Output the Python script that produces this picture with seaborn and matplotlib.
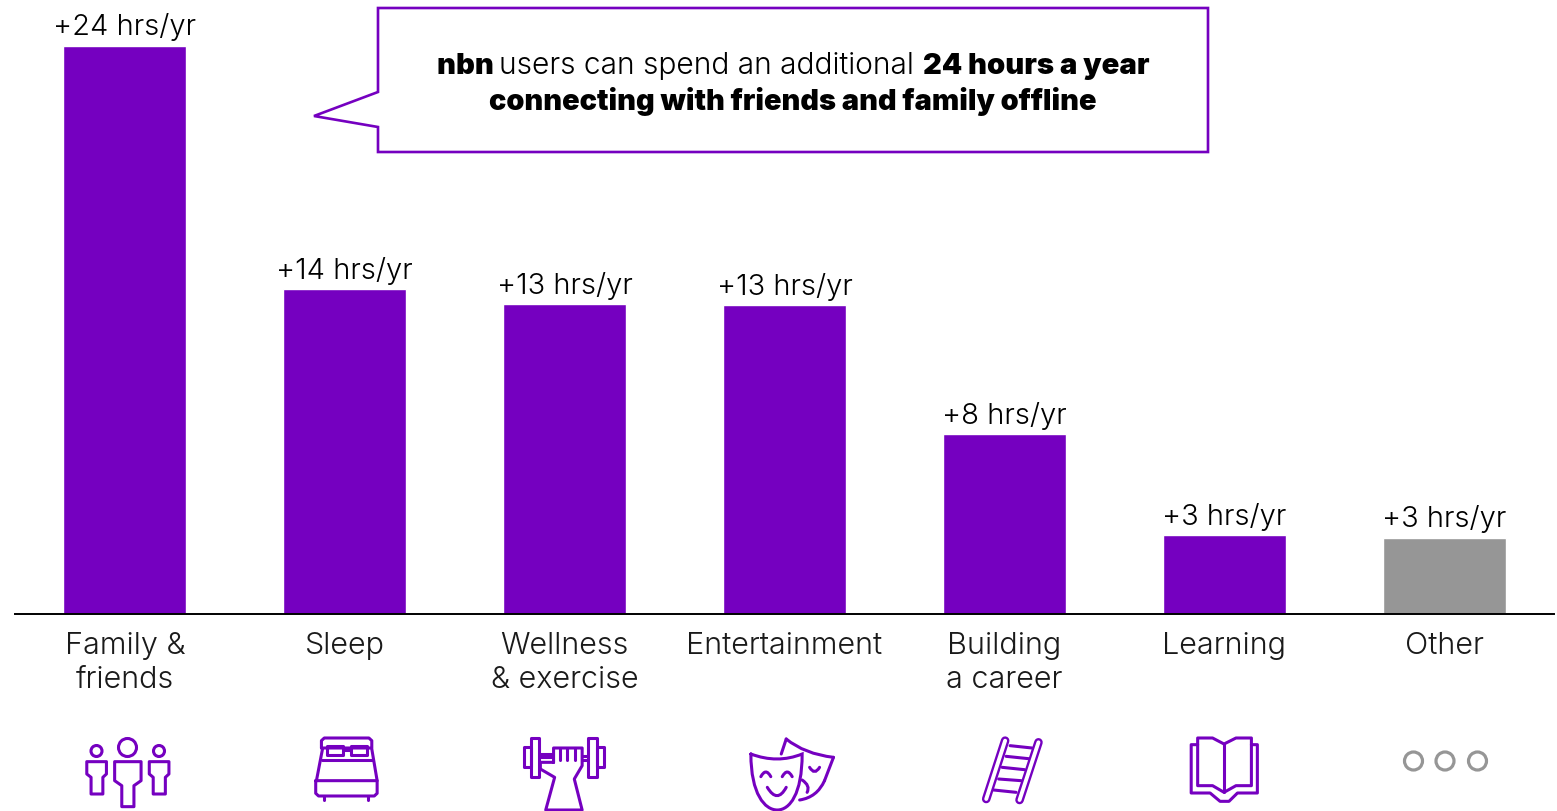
import matplotlib
matplotlib.use("Agg")
import matplotlib.pyplot as plt
import pandas as pd
import seaborn as sns
from matplotlib.patches import Circle, PathPatch, Polygon
from matplotlib.path import Path

# =========================
# Data
# =========================
categories = ["Family &\nfriends", "Sleep", "Wellness\n& exercise", "Entertainment",
              "Building\na career", "Learning", "Other"]
hours = [24, 13.7, 13.08, 13.03, 7.58, 3.3, 3.2]
value_labels = ["+24 hrs/yr", "+14 hrs/yr", "+13 hrs/yr", "+13 hrs/yr",
                "+8 hrs/yr", "+3 hrs/yr", "+3 hrs/yr"]
PURPLE = "#7500C0"
GREY = "#969696"
bar_colors = [PURPLE] * 6 + [GREY]

W, H = 1557, 812
FONT = "Inter"

sns.set_theme(style="white")
plt.rcParams["font.family"] = [FONT, "DejaVu Sans"]

# =========================
# Bars
# =========================
fig = plt.figure(figsize=(W / 100, H / 100), dpi=100)
ax = fig.add_axes([15 / W, 1 - 614.5 / H, 1539 / W, 614.5 / H])
df = pd.DataFrame({"category": categories, "hours": hours})
sns.barplot(data=df, x="category", y="hours", hue="category", palette=bar_colors,
            legend=False, width=0.56, saturation=1, ax=ax)
ax.set_xlim(-0.5, 6.5)
ax.set_ylim(0, 25.98)
ax.set_xlabel("")
ax.set_ylabel("")
ax.set_yticks([])
for side in ["top", "left", "right"]:
    ax.spines[side].set_visible(False)
ax.spines["bottom"].set_color("black")
ax.spines["bottom"].set_linewidth(1.4)
ax.tick_params(axis="x", length=0, pad=12.5)
for lab in ax.get_xticklabels():
    lab.set_fontsize(22)
    lab.set_fontweight(300)
    lab.set_color("#1a1a1a")
    lab.set_linespacing(1.27)
for cont, lab in zip(ax.containers, value_labels):
    ax.bar_label(cont, labels=[lab], padding=4, fontsize=21, fontweight=300, color="black")

# =========================
# Overlay in pixel coordinates (callout and icons)
# =========================
ov = fig.add_axes([0, 0, 1, 1], facecolor="none")
ov.set_xlim(0, W)
ov.set_ylim(H, 0)
ov.axis("off")

callout = [(378, 9), (1208, 9), (1208, 153), (378, 153), (378, 128), (314, 117), (378, 93)]
ov.add_patch(Polygon(callout, closed=True, fc="white", ec=PURPLE, lw=1.9))


def runs(y, parts):
    # centre a line made of normal and bold pieces on the callout
    r = fig.canvas.get_renderer()
    arts = [ov.text(0, y, t, fontsize=s, fontweight=w, color="black", va="center", ha="left")
            for t, w, s in parts]
    widths = [a.get_window_extent(r).width for a in arts]
    x = 793 - sum(widths) / 2
    for a, wd in zip(arts, widths):
        a.set_x(x)
        x += wd


runs(66, [("nbn ", 900, 21), ("users can spend an additional ", 300, 21.6), ("24 hours a year", 900, 21)])
runs(102, [("connecting with friends and family offline", 900, 20.8)])

LW = 2.2
kw = dict(color=PURPLE, lw=LW, solid_capstyle="round", solid_joinstyle="round")


def z1(pts):
    return [(60 + x / 2.8, 725 + y / 3) for x, y in pts]


def z2(pts):
    return [(730 + x / 2.01, 725 + y / 3) for x, y in pts]


def line(pts):
    ov.plot([p[0] for p in pts], [p[1] for p in pts], **kw)


def shape(pts):
    ov.add_patch(Polygon(pts, closed=True, fc="none", ec=PURPLE, lw=LW, joinstyle="round"))


def curve(pts, codes):
    ov.add_patch(PathPatch(Path(pts, codes), fc="none", ec=PURPLE, lw=LW, capstyle="round"))


M, L3, C3, C4 = Path.MOVETO, Path.LINETO, Path.CURVE3, Path.CURVE4

# family
for c, r in [((96.5, 752), 5.5), ((127.5, 748.5), 9), ((159, 752), 5.5)]:
    ov.add_patch(Circle(c, r, fc="none", ec=PURPLE, lw=LW))
shape(z1([(75, 113), (130, 113), (130, 150), (120, 160), (120, 210), (87, 210), (87, 160), (75, 150)]))
shape(z1([(153, 113), (227, 113), (227, 170), (207, 185), (207, 248), (173, 248), (173, 185), (153, 170)]))
shape(z1([(250, 113), (305, 113), (305, 150), (295, 160), (295, 210), (261, 210), (261, 160), (250, 150)]))

# bed
line(z1([(732, 72), (732, 50), (740, 42), (865, 42), (873, 50), (873, 72), (732, 72)]))
shape(z1([(748, 66), (793, 66), (793, 92), (748, 92)]))
shape(z1([(815, 66), (860, 66), (860, 92), (815, 92)]))
line(z1([(793, 78), (815, 78)]))
line(z1([(735, 75), (718, 170)]))
line(z1([(873, 75), (888, 170)]))
line(z1([(733, 108), (877, 108)]))
line(z1([(716, 170), (716, 208), (724, 216), (880, 216), (888, 208), (888, 170), (716, 170)]))
line(z1([(740, 218), (740, 228)]))
line(z1([(863, 218), (863, 228)]))

# dumbbell and fist
shape(z1([(1300, 70), (1320, 70), (1320, 130), (1300, 130)]))
shape(z1([(1320, 42), (1342, 42), (1342, 158), (1320, 158)]))
shape(z1([(1478, 42), (1503, 42), (1503, 158), (1478, 158)]))
shape(z1([(1503, 70), (1522, 70), (1522, 130), (1503, 130)]))
line(z1([(1342, 90), (1380, 90)]))
line(z1([(1342, 100), (1380, 100)]))
line(z1([(1462, 95), (1478, 95)]))
line(z1([(1462, 108), (1478, 108)]))
line(z1([(1382, 115), (1382, 72), (1462, 72), (1462, 125), (1440, 165), (1462, 258),
         (1360, 258), (1385, 160), (1345, 135), (1345, 115), (1382, 115)]))
for fx in [1400, 1420, 1442]:
    line(z1([(fx, 72), (fx, 108)]))

# theatre masks
curve(z2([(42, 90), (95, 120), (145, 90), (145, 210), (120, 258), (95, 258),
          (70, 258), (42, 210), (42, 90)]),
      [M, C3, C3, C4, C4, C4, C4, C4, C4])
curve(z2([(62, 158), (72, 130), (82, 158)]), [M, C3, C3])
curve(z2([(105, 158), (115, 130), (125, 158)]), [M, C3, C3])
curve(z2([(75, 190), (95, 240), (113, 190)]), [M, C3, C3])
curve(z2([(103, 90), (113, 45)]), [M, L3])
curve(z2([(113, 45), (150, 90), (208, 100)]), [M, C3, C3])
curve(z2([(208, 100), (190, 170)]), [M, L3])
curve(z2([(190, 170), (175, 220), (140, 228)]), [M, C3, C3])
curve(z2([(160, 130), (170, 155), (180, 130)]), [M, C3, C3])
curve(z2([(145, 168), (162, 185), (155, 205)]), [M, C3, C3])

# ladder
for a, b in [((553, 50), (515, 225)), ((620, 55), (582, 228))]:
    ov.plot(*zip(*z2([a, b])), color=PURPLE, lw=6.2, solid_capstyle="round")
    ov.plot(*zip(*z2([a, b])), color="white", lw=2.8, solid_capstyle="round")
for a, b in [((563, 65), (607, 72)), ((555, 97), (600, 104)), ((547, 130), (592, 137)),
             ((540, 165), (585, 170)), ((530, 198), (575, 205))]:
    line(z2([a, b]))

# book
shape(z2([(940, 185), (940, 42), (970, 42), (993, 60), (1017, 42), (1048, 42), (1048, 185),
          (1017, 185), (993, 205), (970, 185)]))
line(z2([(993, 60), (993, 205)]))
line(z2([(940, 62), (927, 62), (927, 207), (965, 207), (985, 232), (1003, 232), (1020, 207),
         (1060, 207), (1060, 62), (1048, 62)]))

# other
for cx in [1413.5, 1445, 1477.5]:
    ov.add_patch(Circle((cx, 762), 9, fc="none", ec=GREY, lw=2.3))

fig.savefig("out.png", dpi=100)
